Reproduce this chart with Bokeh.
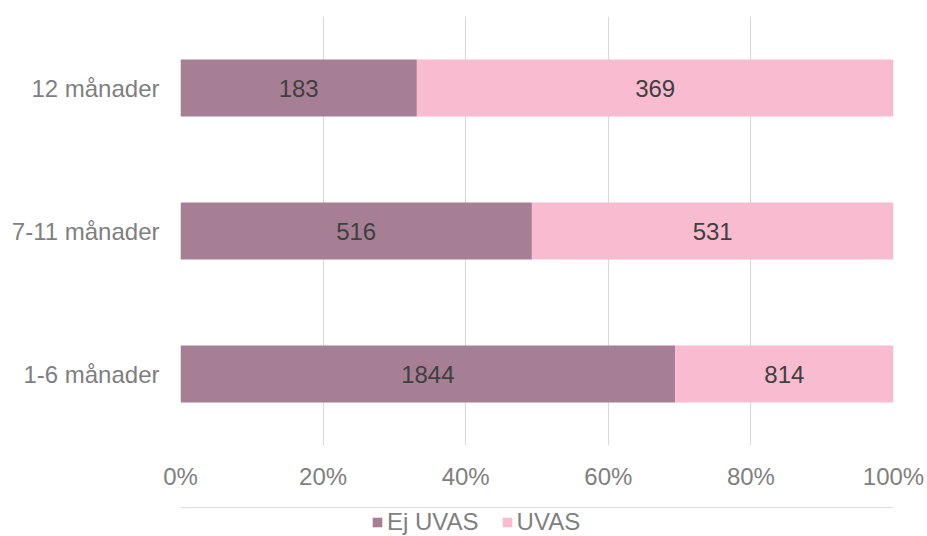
from bokeh.plotting import figure
from bokeh.layouts import column
from bokeh.models import ColumnDataSource, Range1d, FactorRange, NumeralTickFormatter, FixedTicker, Legend, LegendItem
from bokeh.core.properties import value
from bokeh.embed import file_html
from bokeh.resources import INLINE

categories = ["1-6 månader", "7-11 månader", "12 månader"]
ej_uvas = [1844, 516, 183]
uvas = [814, 531, 369]
series_names = ["Ej UVAS", "UVAS"]
colors = ["#A67F94", "#F8BBD0"]
x_ticks = [0, 0.2, 0.4, 0.6, 0.8, 1.0]

tot = [a + b for a, b in zip(ej_uvas, uvas)]
f_ej = [a / t for a, t in zip(ej_uvas, tot)]
f_uv = [b / t for b, t in zip(uvas, tot)]

src = ColumnDataSource(dict(
    cat=categories,
    ej=f_ej,
    uv=f_uv,
    ej_mid=[f / 2 for f in f_ej],
    uv_mid=[e + u / 2 for e, u in zip(f_ej, f_uv)],
    ej_lbl=[str(v) for v in ej_uvas],
    uv_lbl=[str(v) for v in uvas],
))

FONT = "Liberation Sans"
FS = "24px"

p = figure(frame_width=713, frame_height=429, output_backend="svg", toolbar_location=None,
           y_range=FactorRange(*categories, range_padding=0),
           x_range=Range1d(0, 1.0),
           min_border_left=180, min_border_right=34, min_border_top=16, min_border_bottom=62)
p.outline_line_color = None
p.background_fill_color = "white"

r = p.hbar_stack(["ej", "uv"], y="cat", height=0.4, color=colors, source=src, line_color=None)

p.text(x="ej_mid", y="cat", text="ej_lbl", source=src, text_align="center", text_baseline="middle",
       text_font=value(FONT), text_font_size=FS, text_color="#404040")
p.text(x="uv_mid", y="cat", text="uv_lbl", source=src, text_align="center", text_baseline="middle",
       text_font=value(FONT), text_font_size=FS, text_color="#404040")

p.xaxis.ticker = FixedTicker(ticks=x_ticks)
p.xaxis.formatter = NumeralTickFormatter(format="0%")
p.xgrid.grid_line_color = "#D9D9D9"
p.xgrid.grid_line_width = 1
p.ygrid.grid_line_color = None

for ax in (p.xaxis, p.yaxis):
    ax.axis_line_color = None
    ax.major_tick_line_color = None
    ax.minor_tick_line_color = None
    ax.major_tick_out = 0
    ax.major_tick_in = 0
    ax.minor_tick_out = 0
    ax.minor_tick_in = 0
    ax.major_label_text_font = FONT
    ax.major_label_text_font_size = FS
    ax.major_label_text_color = "#7F7F7F"
p.xaxis.major_label_standoff = 17
p.yaxis.major_label_standoff = 21

# legend strip below the chart (its frame is aligned with the chart's frame)
lf = figure(width=927, height=29, output_backend="svg", toolbar_location=None,
            x_range=Range1d(0, 1), y_range=Range1d(0, 1),
            x_axis_type=None, y_axis_type=None,
            min_border_left=0, min_border_right=0, min_border_top=0, min_border_bottom=0)
lf.outline_line_color = None
lf.xgrid.visible = False
lf.ygrid.visible = False
# stub renderers kept outside the visible range: only their legend swatches show
lr = [lf.hbar(y=[5], left=[0], right=[1], height=0.5, color=colors[i], line_color=None) for i in range(2)]

legend = Legend(items=[LegendItem(label=series_names[i], renderers=[lr[i]]) for i in range(2)],
                orientation="horizontal", location=(191, 0),
                label_text_font=FONT, label_text_font_size=FS, label_text_color="#7F7F7F",
                glyph_width=12, glyph_height=12, label_standoff=4, spacing=22,
                padding=0, margin=0, border_line_color=None, background_fill_alpha=0)
lf.add_layout(legend, "center")

layout = column(p, lf, spacing=0)
open("out.html", "w").write(file_html(layout, INLINE))
